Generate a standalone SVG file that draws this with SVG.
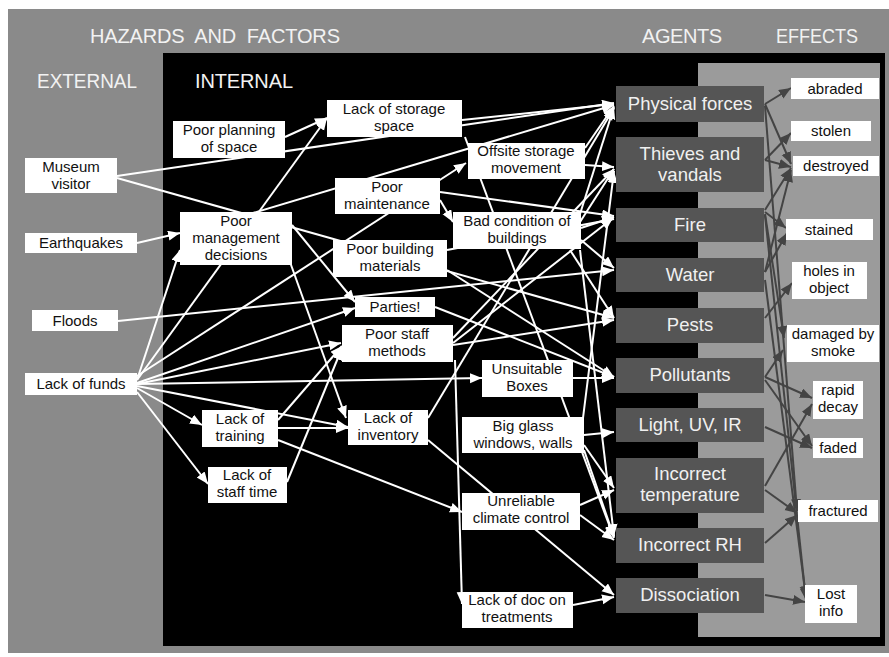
<svg xmlns="http://www.w3.org/2000/svg" width="889" height="657" viewBox="0 0 889 657">
<defs>
<marker id="aw" markerUnits="userSpaceOnUse" markerWidth="13" markerHeight="11" refX="12" refY="5" orient="auto"><path d="M0,0 L12,5 L0,10 z" fill="#fff"/></marker>
<marker id="ad" markerUnits="userSpaceOnUse" markerWidth="13" markerHeight="11" refX="12" refY="5" orient="auto"><path d="M0,0 L12,5 L0,10 z" fill="#444"/></marker>
<style>
.hd{font-family:"Liberation Sans",Arial,sans-serif;font-size:20px;fill:#f2f2f2}
.wb{fill:#fff}
.ag{fill:#555}
.t{font-family:"Liberation Sans",Arial,sans-serif;font-size:15px;fill:#111;text-anchor:middle}
.ta{font-family:"Liberation Sans",Arial,sans-serif;font-size:18.5px;fill:#f0f0f0;text-anchor:middle}
.cw line{stroke:#fff;stroke-width:2;marker-end:url(#aw)}
.cd line{stroke:#444;stroke-width:2;marker-end:url(#ad)}
</style>
</defs>
<rect x="0" y="0" width="889" height="657" fill="#fff"/>
<rect x="8" y="9" width="881" height="644" fill="#8a8a8a"/>
<rect x="163" y="53" width="722" height="593" fill="#000"/>
<rect x="698" y="63" width="182" height="574" fill="#9b9b9b"/>
<text class="hd" x="90" y="43" xml:space="preserve" textLength="250" lengthAdjust="spacing">HAZARDS  AND  FACTORS</text>
<text class="hd" x="642" y="43" textLength="80">AGENTS</text>
<text class="hd" x="776" y="43" textLength="82" lengthAdjust="spacingAndGlyphs">EFFECTS</text>
<text class="hd" x="37" y="88" textLength="100" lengthAdjust="spacingAndGlyphs">EXTERNAL</text>
<text class="hd" x="195" y="88" textLength="98">INTERNAL</text>

<g id="connectors">
<g class="cw">
<line x1="117" y1="176" x2="614" y2="103"/>
<line x1="117" y1="178" x2="614" y2="318"/>
<line x1="137" y1="243" x2="180" y2="233"/>
<line x1="118" y1="321" x2="614" y2="270"/>
<line x1="285" y1="137" x2="327" y2="118"/>
<line x1="462" y1="120" x2="614" y2="104"/>
<line x1="137" y1="380" x2="180" y2="250"/>
<line x1="137" y1="380" x2="327" y2="118"/>
<line x1="137" y1="376" x2="466" y2="163"/>
<line x1="137" y1="383" x2="355" y2="308"/>
<line x1="137" y1="384" x2="341" y2="343"/>
<line x1="137" y1="384" x2="482" y2="378"/>
<line x1="137" y1="388" x2="202" y2="425"/>
<line x1="137" y1="392" x2="208" y2="484"/>
<line x1="137" y1="386" x2="348" y2="427"/>
<line x1="278" y1="440" x2="462" y2="512"/>
<line x1="278" y1="428" x2="348" y2="428"/>
<line x1="278" y1="420" x2="342" y2="346"/>
<line x1="287" y1="482" x2="342" y2="348"/>
<line x1="253" y1="213" x2="614" y2="105"/>
<line x1="292" y1="225" x2="355" y2="302"/>
<line x1="290" y1="262" x2="346" y2="418"/>
<line x1="440" y1="192" x2="614" y2="216"/>
<line x1="440" y1="200" x2="453" y2="222"/>
<line x1="585" y1="148" x2="614" y2="106"/>
<line x1="585" y1="165" x2="614" y2="167"/>
<line x1="580" y1="214" x2="614" y2="107"/>
<line x1="580" y1="222" x2="614" y2="169"/>
<line x1="581" y1="228" x2="614" y2="217"/>
<line x1="581" y1="240" x2="614" y2="268"/>
<line x1="570" y1="250" x2="614" y2="318"/>
<line x1="580" y1="250" x2="614" y2="536"/>
<line x1="583" y1="418" x2="614" y2="171"/>
<line x1="447" y1="270" x2="614" y2="377"/>
<line x1="447" y1="250" x2="614" y2="219"/>
<line x1="453" y1="338" x2="614" y2="169"/>
<line x1="453" y1="343" x2="613" y2="218"/>
<line x1="453" y1="345" x2="614" y2="320"/>
<line x1="455" y1="360" x2="462" y2="604"/>
<line x1="435" y1="307" x2="614" y2="377"/>
<line x1="573" y1="378" x2="614" y2="378"/>
<line x1="584" y1="435" x2="614" y2="432"/>
<line x1="584" y1="445" x2="614" y2="488"/>
<line x1="584" y1="450" x2="614" y2="537"/>
<line x1="580" y1="505" x2="614" y2="490"/>
<line x1="580" y1="515" x2="614" y2="540"/>
<line x1="428" y1="418" x2="614" y2="108"/>
<line x1="428" y1="440" x2="614" y2="595"/>
<line x1="573" y1="605" x2="614" y2="597"/>
<line x1="465" y1="137" x2="614" y2="538"/>
</g>
<g class="cd">
<line x1="765" y1="104" x2="791" y2="88"/>
<line x1="765" y1="104" x2="791" y2="164"/>
<line x1="765" y1="106" x2="797" y2="511"/>
<line x1="765" y1="160" x2="791" y2="133"/>
<line x1="765" y1="160" x2="791" y2="167"/>
<line x1="765" y1="210" x2="791" y2="168"/>
<line x1="765" y1="212" x2="786" y2="228"/>
<line x1="765" y1="214" x2="784" y2="338"/>
<line x1="765" y1="215" x2="806" y2="600"/>
<line x1="765" y1="272" x2="787" y2="233"/>
<line x1="765" y1="272" x2="791" y2="170"/>
<line x1="765" y1="280" x2="806" y2="598"/>
<line x1="765" y1="318" x2="792" y2="283"/>
<line x1="765" y1="377" x2="783" y2="350"/>
<line x1="765" y1="377" x2="812" y2="398"/>
<line x1="765" y1="380" x2="812" y2="446"/>
<line x1="765" y1="427" x2="812" y2="448"/>
<line x1="765" y1="486" x2="812" y2="404"/>
<line x1="765" y1="490" x2="797" y2="513"/>
<line x1="765" y1="543" x2="797" y2="515"/>
<line x1="765" y1="595" x2="805" y2="602"/>
</g>
</g>

<g id="museum-visitor"><rect class="wb" x="25" y="158" width="92" height="35"/><text class="t" x="71" y="172">Museum</text><text class="t" x="71" y="189">visitor</text></g>
<g id="earthquakes"><rect class="wb" x="25" y="233" width="112" height="20"/><text class="t" x="81" y="248">Earthquakes</text></g>
<g id="floods"><rect class="wb" x="32" y="310" width="86" height="21"/><text class="t" x="75" y="326">Floods</text></g>
<g id="lack-of-funds"><rect class="wb" x="25" y="373" width="112" height="22"/><text class="t" x="81" y="389">Lack of funds</text></g>

<g id="poor-planning"><rect class="wb" x="173" y="121" width="112" height="37"/><text class="t" x="229" y="135">Poor planning</text><text class="t" x="229" y="152">of space</text></g>
<g id="lack-storage"><rect class="wb" x="327" y="100" width="135" height="37"/><text class="t" x="394" y="114">Lack of storage</text><text class="t" x="394" y="131">space</text></g>
<g id="poor-maintenance"><rect class="wb" x="335" y="178" width="105" height="36"/><text class="t" x="387" y="192">Poor</text><text class="t" x="387" y="209">maintenance</text></g>
<g id="poor-management"><rect class="wb" x="180" y="212" width="112" height="53"/><text class="t" x="236" y="226">Poor</text><text class="t" x="236" y="243">management</text><text class="t" x="236" y="260">decisions</text></g>
<g id="poor-building"><rect class="wb" x="333" y="240" width="114" height="37"/><text class="t" x="390" y="254">Poor building</text><text class="t" x="390" y="271">materials</text></g>
<g id="offsite"><rect class="wb" x="468" y="143" width="117" height="36"/><text class="t" x="526" y="156">Offsite storage</text><text class="t" x="526" y="173">movement</text></g>
<g id="bad-condition"><rect class="wb" x="453" y="212" width="128" height="37"/><text class="t" x="517" y="226">Bad condition of</text><text class="t" x="517" y="243">buildings</text></g>
<g id="parties"><rect class="wb" x="355" y="297" width="80" height="20"/><text class="t" x="395" y="312">Parties!</text></g>
<g id="poor-staff"><rect class="wb" x="342" y="325" width="111" height="37"/><text class="t" x="397" y="339">Poor staff</text><text class="t" x="397" y="356">methods</text></g>
<g id="unsuitable-boxes"><rect class="wb" x="482" y="360" width="91" height="37"/><text class="t" x="527" y="374">Unsuitable</text><text class="t" x="527" y="391">Boxes</text></g>
<g id="lack-training"><rect class="wb" x="202" y="410" width="76" height="37"/><text class="t" x="240" y="424">Lack of</text><text class="t" x="240" y="441">training</text></g>
<g id="lack-inventory"><rect class="wb" x="348" y="410" width="80" height="35"/><text class="t" x="388" y="423">Lack of</text><text class="t" x="388" y="440">inventory</text></g>
<g id="big-glass"><rect class="wb" x="462" y="417" width="122" height="36"/><text class="t" x="523" y="431">Big glass</text><text class="t" x="523" y="448">windows, walls</text></g>
<g id="lack-staff-time"><rect class="wb" x="208" y="467" width="79" height="36"/><text class="t" x="247" y="480">Lack of</text><text class="t" x="247" y="497">staff time</text></g>
<g id="unreliable"><rect class="wb" x="462" y="493" width="118" height="37"/><text class="t" x="521" y="506">Unreliable</text><text class="t" x="521" y="523">climate control</text></g>
<g id="lack-doc"><rect class="wb" x="462" y="592" width="111" height="36"/><text class="t" x="517" y="605">Lack of doc on</text><text class="t" x="517" y="622">treatments</text></g>

<g id="physical-forces"><rect class="ag" x="616" y="86" width="148" height="36"/><text class="ta" x="690" y="110">Physical forces</text></g>
<g id="thieves"><rect class="ag" x="616" y="137" width="148" height="55"/><text class="ta" x="690" y="160">Thieves and</text><text class="ta" x="690" y="181">vandals</text></g>
<g id="fire"><rect class="ag" x="616" y="208" width="148" height="34"/><text class="ta" x="690" y="231">Fire</text></g>
<g id="water"><rect class="ag" x="616" y="258" width="148" height="34"/><text class="ta" x="690" y="281">Water</text></g>
<g id="pests"><rect class="ag" x="616" y="308" width="148" height="35"/><text class="ta" x="690" y="331">Pests</text></g>
<g id="pollutants"><rect class="ag" x="616" y="358" width="148" height="35"/><text class="ta" x="690" y="381">Pollutants</text></g>
<g id="light"><rect class="ag" x="616" y="408" width="148" height="34"/><text class="ta" x="690" y="431">Light, UV, IR</text></g>
<g id="incorrect-temp"><rect class="ag" x="616" y="458" width="148" height="55"/><text class="ta" x="690" y="480">Incorrect</text><text class="ta" x="690" y="501">temperature</text></g>
<g id="incorrect-rh"><rect class="ag" x="616" y="528" width="148" height="35"/><text class="ta" x="690" y="551">Incorrect RH</text></g>
<g id="dissociation"><rect class="ag" x="616" y="578" width="148" height="35"/><text class="ta" x="690" y="601">Dissociation</text></g>

<g id="abraded"><rect class="wb" x="791" y="78" width="88" height="21"/><text class="t" x="835" y="94">abraded</text></g>
<g id="stolen"><rect class="wb" x="791" y="121" width="80" height="20"/><text class="t" x="831" y="136">stolen</text></g>
<g id="destroyed"><rect class="wb" x="793" y="156" width="86" height="20"/><text class="t" x="836" y="171">destroyed</text></g>
<g id="stained"><rect class="wb" x="786" y="219" width="87" height="21"/><text class="t" x="829" y="235">stained</text></g>
<g id="holes"><rect class="wb" x="792" y="262" width="75" height="37"/><text class="t" x="829" y="276">holes in</text><text class="t" x="829" y="293">object</text></g>
<g id="smoke"><rect class="wb" x="787" y="325" width="92" height="37"/><text class="t" x="833" y="339">damaged by</text><text class="t" x="833" y="356">smoke</text></g>
<g id="rapid-decay"><rect class="wb" x="813" y="381" width="50" height="38"/><text class="t" x="838" y="395">rapid</text><text class="t" x="838" y="412">decay</text></g>
<g id="faded"><rect class="wb" x="813" y="438" width="50" height="20"/><text class="t" x="838" y="453">faded</text></g>
<g id="fractured"><rect class="wb" x="798" y="500" width="80" height="22"/><text class="t" x="838" y="516">fractured</text></g>
<g id="lost-info"><rect class="wb" x="805" y="585" width="52" height="38"/><text class="t" x="831" y="599">Lost</text><text class="t" x="831" y="616">info</text></g>
</svg>
